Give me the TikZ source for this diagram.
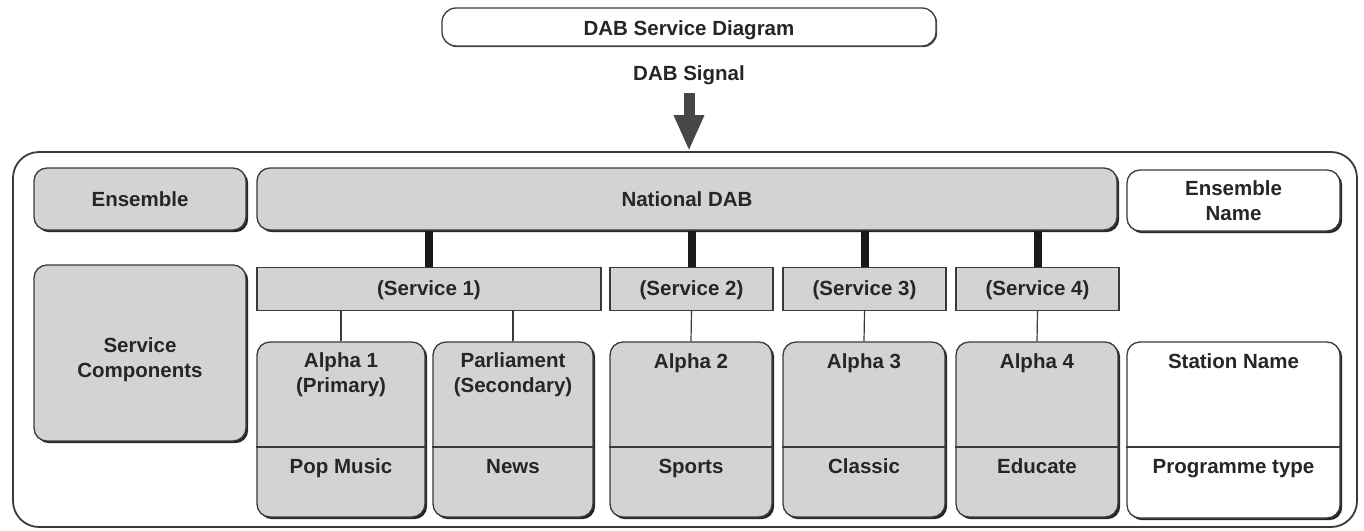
\documentclass[tikz,border=0pt]{standalone}
\usepackage{fontspec}
\setmainfont{Liberation Sans}
\usetikzlibrary{shadows,arrows.meta}
\definecolor{boxgray}{HTML}{D3D3D5}
\definecolor{ink}{HTML}{262626}
\definecolor{edge}{HTML}{3A3A3A}
\tikzset{
  lbl/.style={font=\fontsize{20.5}{25}\selectfont\bfseries, text=ink, align=center, inner sep=0pt},
  one/.style={lbl, text height=15pt, text depth=4.5pt},
  rbox/.style={draw=edge, line width=1.3pt, rounded corners=13pt, fill=boxgray,
     drop shadow={shadow xshift=2.2pt, shadow yshift=-2.2pt, fill=black!85, opacity=1}, inner sep=0pt},
  wbox/.style={rbox, fill=white},
  sbox/.style={draw=edge, line width=1.3pt, fill=boxgray, inner sep=0pt},
  thick link/.style={line width=8pt, draw=black!90},
  thin link/.style={line width=1.2pt, draw=edge},
}
\begin{document}
\begin{tikzpicture}[x=1pt,y=-1pt]
\useasboundingbox (0,0) rectangle (1364,530);
% title
\node[draw=edge, line width=1.3pt, rounded corners=14pt, fill=white, minimum width=494pt, minimum height=38pt, inner sep=0pt,
      drop shadow={shadow xshift=1.2pt, shadow yshift=-1.2pt, fill=black!70, opacity=1}] (title) at (689,27) {};
\node[one] (titletext) at (689,30) {DAB Service Diagram};
\node[one] (sig) at (689,75) {DAB Signal};
% frame
\node[draw=edge, line width=1.8pt, rounded corners=26pt, minimum width=1344pt, minimum height=375pt, inner sep=0pt] (frame) at (685,339.5) {};
\draw[line width=11pt, draw=black!72, -{Triangle[width=28pt,length=36pt]}, shorten <=8pt] (sig.south) -- (frame.north -| sig.south);
% left labels
\node[rbox, minimum width=212pt, minimum height=62pt] (ens) at (140,199) {};
\node[one] at (140,201) {Ensemble};
\node[rbox, minimum width=212pt, minimum height=176pt] (sc) at (140,353) {};
\node[lbl] at (ens.center |- 0,360) {Service\\Components};
% national
\node[rbox, minimum width=860pt, minimum height=62pt] (ndab) at (687,199) {};
\node[one] at (687,201) {National DAB};
\node[wbox, minimum width=213pt, minimum height=61pt] (ename) at (1233.5,200.5) {};
\node[lbl] at (ename.center) {Ensemble\\Name};
% services
\node[sbox, minimum width=344pt, minimum height=43pt] (s1) at (429,289) {};
\node[sbox, minimum width=163pt, minimum height=43pt] (s2) at (691.5,289) {};
\node[sbox, minimum width=163pt, minimum height=43pt] (s3) at (864.5,289) {};
\node[sbox, minimum width=163pt, minimum height=43pt] (s4) at (1037.5,289) {};
\node[one] at (429,290) {(Service 1)};
\node[one] at (691.5,290) {(Service 2)};
\node[one] at (864.5,290) {(Service 3)};
\node[one] at (1037.5,290) {(Service 4)};
\draw[thick link] (s1.north |- ndab.south) -- (s1.north);
\draw[thick link] (s2.north |- ndab.south) -- (s2.north);
\draw[thick link] (s3.north |- ndab.south) -- (s3.north);
\draw[thick link] (s4.north |- ndab.south) -- (s4.north);
% components
\node[rbox, minimum width=168pt, minimum height=175pt] (a1) at (341,429.5) {};
\node[rbox, minimum width=160pt, minimum height=175pt] (pa) at (513,429.5) {};
\node[rbox, minimum width=162pt, minimum height=175pt] (a2) at (691,429.5) {};
\node[rbox, minimum width=162pt, minimum height=175pt] (a3) at (864,429.5) {};
\node[rbox, minimum width=162pt, minimum height=175pt] (a4) at (1037,429.5) {};
\node[wbox, minimum width=213pt, minimum height=176pt] (st) at (1233.5,430) {};
\foreach \b in {a1,pa,a2,a3,a4,st}{
  \draw[thin link] (\b.west |- 0,447) -- (\b.east |- 0,447);
}
\draw[thin link] (s1.south -| a1.north) -- (a1.north);
\draw[thin link] (s1.south -| pa.north) -- (pa.north);
\draw[thin link] (s2.south) -- (a2.north);
\draw[thin link] (s3.south) -- (a3.north);
\draw[thin link] (s4.south) -- (a4.north);
\node[lbl] at (a1.center |- 0,375) {Alpha 1\\(Primary)};
\node[lbl] at (pa.center |- 0,375) {Parliament\\(Secondary)};
\node[one] at (a2.center |- 0,363) {Alpha 2};
\node[one] at (a3.center |- 0,363) {Alpha 3};
\node[one] at (a4.center |- 0,363) {Alpha 4};
\node[one] at (st.center |- 0,363) {Station Name};
\node[one] at (a1.center |- 0,468) {Pop Music};
\node[one] at (pa.center |- 0,468) {News};
\node[one] at (a2.center |- 0,468) {Sports};
\node[one] at (a3.center |- 0,468) {Classic};
\node[one] at (a4.center |- 0,468) {Educate};
\node[one] at (st.center |- 0,468) {Programme type};
\end{tikzpicture}
\end{document}
